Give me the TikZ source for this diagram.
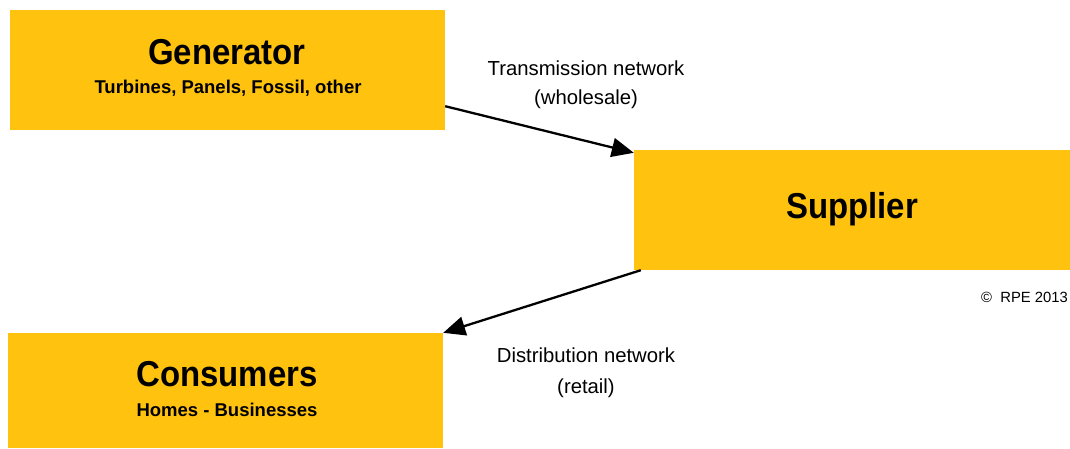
\documentclass[tikz,border=0pt]{standalone}
\usepackage{fontspec}
\setmainfont{Liberation Sans}
\newfontfamily\headfont{Liberation Sans}[FakeStretch=0.915]
\usetikzlibrary{arrows.meta, positioning, calc}

\definecolor{amber}{RGB}{255,194,14}

\begin{document}
\begin{tikzpicture}[x=1pt,y=-1pt,
    block/.style={rectangle, fill=amber, draw=none, inner sep=0pt},
    title/.style={anchor=base, inner sep=0pt, font=\headfont\bfseries\fontsize{36}{40}\selectfont},
    subtitle/.style={anchor=base, inner sep=0pt, font=\bfseries\fontsize{18.5}{22}\selectfont},
    netlabel/.style={anchor=base, inner sep=0pt, font=\fontsize{20.3}{24}\selectfont},
    flow/.style={-{Triangle[length=22pt,width=19pt]}, line width=2.3pt, draw=black}]

    % canvas
    \fill[white] (0,0) rectangle (1070,448);
    \useasboundingbox (0,0) rectangle (1070,448);

    % boxes
    \node[block, minimum width=435pt, minimum height=120pt] (gen) at (227.5,70) {};
    \node[block, minimum width=436pt, minimum height=120pt] (sup) at (852,210) {};
    \node[block, minimum width=435pt, minimum height=115pt] (con) at (225.5,390.5) {};

    % box texts
    \node[title] (gentitle) at (227,64) {Generator};
    \node[subtitle] (gensub) at (228,93) {Turbines, Panels, Fossil, other};
    \node[title] (suptitle) at (852,218) {Supplier};
    \node[title] (contitle) at (227,386) {Consumers};
    \node[subtitle] (consub) at (227,416) {Homes - Businesses};

    % network labels
    \node[netlabel] (trans) at (586,75) {Transmission network};
    \node[netlabel] (whole) at (586,104) {(wholesale)};
    \node[netlabel] (dist) at (586,362) {Distribution network};
    \node[netlabel] (retail) at (586,393) {(retail)};

    \node[anchor=base east, inner sep=0pt, font=\fontsize{14.8}{17}\selectfont]
      (copy) at (1068,302) {©\ \ RPE 2013};

    % connectors
    \draw[flow] ($(gen.south east)+(0,-24)$) -- ($(sup.north west)+(0,3)$);
    \draw[flow] ($(sup.south west)+(7,0)$) -- (con.north east);
\end{tikzpicture}
\end{document}
